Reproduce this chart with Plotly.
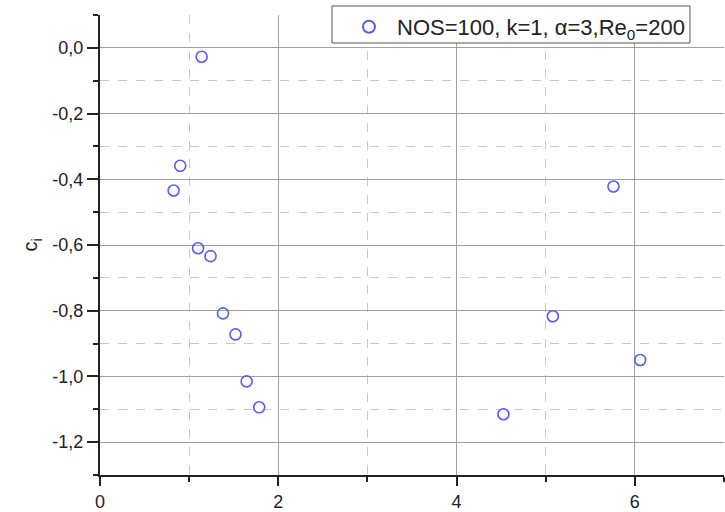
import plotly.graph_objects as go

# data
x_vals = [1.14, 0.90, 0.826, 1.10, 1.24, 1.38, 1.52, 1.645, 1.786, 4.526, 5.08, 5.76, 6.06]
y_vals = [-0.027, -0.359, -0.434, -0.61, -0.634, -0.808, -0.872, -1.015, -1.094, -1.115, -0.817, -0.422, -0.95]
series_name = "NOS=100, k=1, α=3,Re<sub>0</sub>=200"

x_tickvals = [0, 2, 4, 6]
x_ticktext = ["0", "2", "4", "6"]
y_tickvals = [0.0, -0.2, -0.4, -0.6, -0.8, -1.0, -1.2]
y_ticktext = ["0,0", "-0,2", "-0,4", "-0,6", "-0,8", "-1,0", "-1,2"]

font_fam = "Liberation Sans, Arial, sans-serif"

fig = go.Figure()
fig.add_trace(go.Scatter(
    x=x_vals, y=y_vals, mode="markers", name=series_name,
    marker=dict(symbol="circle-open", size=11, color="#5a5af5",
                line=dict(width=1.6, color="#5a5af5")),
    cliponaxis=False,
))

major_grid = "#a0a0a0"
minor_grid = "#c8c8c8"

# legend frame (drawn as a shape so its padding can match)
fig.add_shape(type="rect", xref="paper", yref="paper",
              x0=0.3718, x1=0.9455, y0=0.9391, y1=1.0196,
              line=dict(color="#555555", width=1), fillcolor="white", layer="above")

fig.update_layout(
    width=725, height=512,
    margin=dict(l=100, r=1, t=15, b=37),
    paper_bgcolor="white", plot_bgcolor="white",
    font=dict(family=font_fam, size=18, color="#222222"),
    showlegend=True,
    legend=dict(
        x=0.9455, y=1.0196, xanchor="right", yanchor="top",
        bgcolor="rgba(0,0,0,0)", borderwidth=0,
        font=dict(size=22, color="#222222"),
        itemsizing="constant", itemwidth=46,
    ),
    xaxis=dict(
        range=[0, 7], tickvals=x_tickvals, ticktext=x_ticktext,
        showgrid=True, gridcolor=major_grid, gridwidth=1,
        zeroline=False, showline=True, linecolor="#222222", linewidth=2,
        ticks="outside", ticklen=9, tickwidth=2, tickcolor="#222222",
        minor=dict(dtick=1, tick0=0, showgrid=True, gridcolor=minor_grid,
                   griddash="dash", gridwidth=1, ticks="outside", ticklen=5,
                   tickwidth=2, tickcolor="#222222"),
        tickfont=dict(size=18),
    ),
    yaxis=dict(
        range=[-1.3, 0.1], tickvals=y_tickvals, ticktext=y_ticktext,
        showgrid=True, gridcolor=major_grid, gridwidth=1,
        zeroline=False, showline=True, linecolor="#222222", linewidth=2,
        ticks="outside", ticklen=11, tickwidth=2, tickcolor="#222222",
        minor=dict(dtick=0.1, tick0=0, showgrid=True, gridcolor=minor_grid,
                   griddash="dash", gridwidth=1, ticks="outside", ticklen=5,
                   tickwidth=2, tickcolor="#222222"),
        tickfont=dict(size=18),
        title=dict(text="c<sub>i</sub>", font=dict(size=20, color="#222222"), standoff=9),
    ),
)

fig.write_html("out.html", config={"displayModeBar": False},
               post_script="document.body.style.margin='0px';")
